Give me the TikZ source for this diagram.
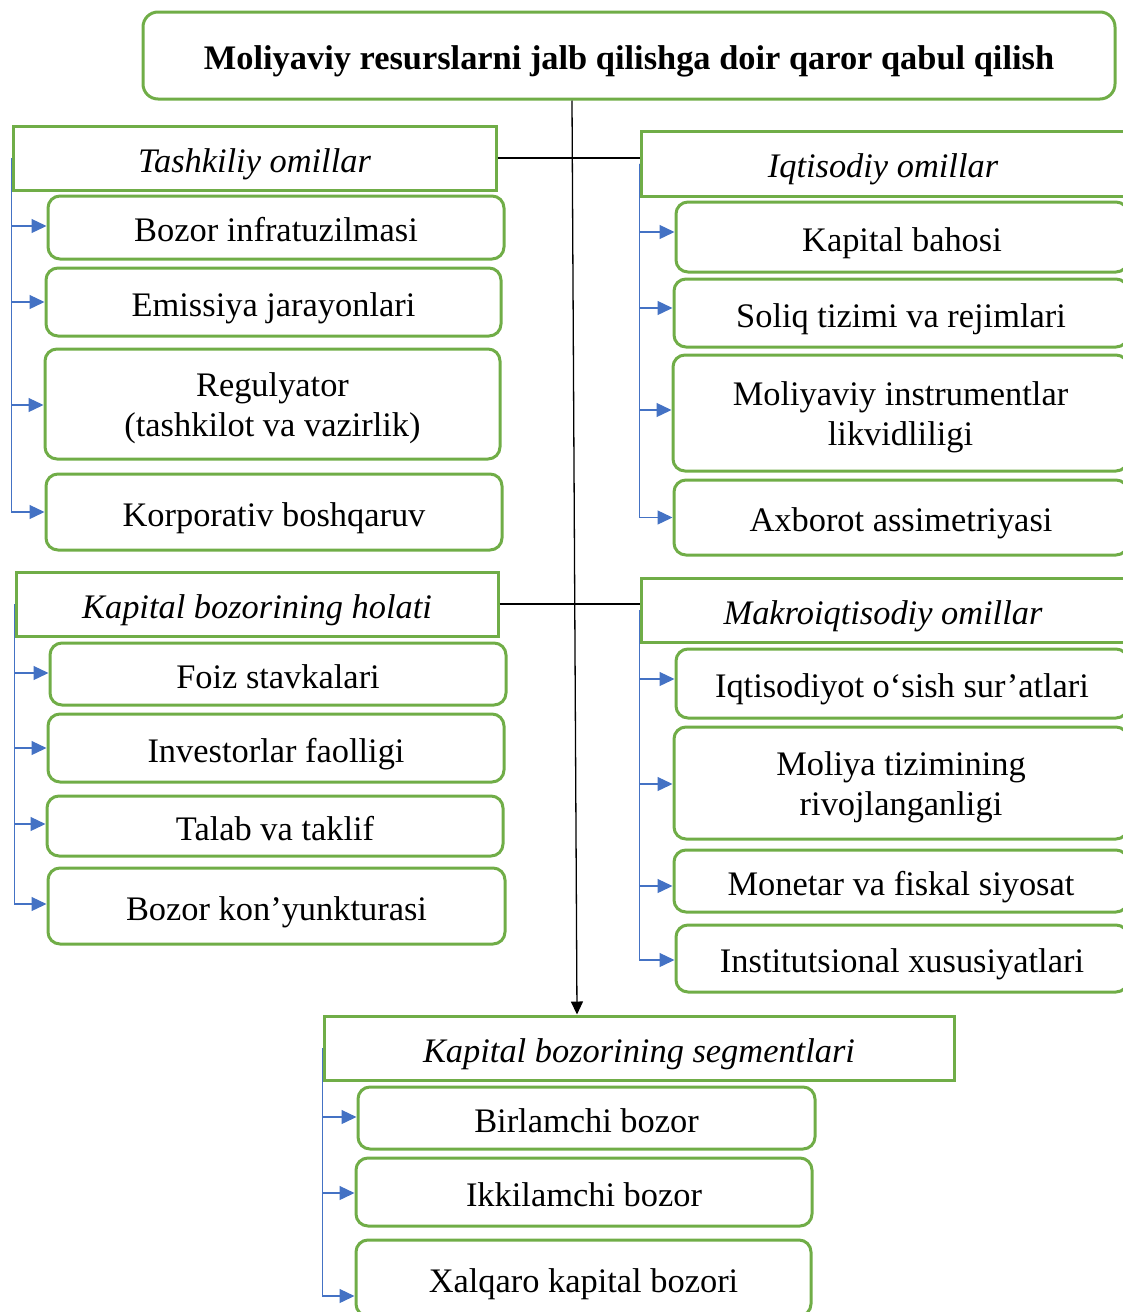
\documentclass[tikz,border=0pt]{standalone}
\usepackage{fontspec}
\setmainfont{Liberation Serif}
\usetikzlibrary{arrows.meta}
\definecolor{grn}{HTML}{70AD47}
\definecolor{blu}{HTML}{4472C4}
\newcommand\twolines[2]{\raisebox{-4.5pt}[\height][\depth]{\begin{tabular}{@{}c@{}}#1\\#2\end{tabular}}}
\begin{document}
\begin{tikzpicture}[x=1pt,y=-1pt,
  every node/.style={font=\fontsize{34.4}{40}\selectfont},
  box/.style={draw=grn, line width=3pt, rounded corners=12pt, inner sep=0pt, text height=30pt, text depth=2pt},
  multi/.style={draw=grn, line width=3pt, rounded corners=12pt, inner sep=0pt},
  head/.style={draw=grn, line width=3pt, inner sep=0pt, text height=30pt, text depth=2pt, font=\fontsize{34.4}{40}\selectfont\itshape},
  link/.style={blu, line width=1.3pt, -{Triangle[length=15pt,width=14pt]}},
  plain/.style={black, line width=1.3pt},
]
\useasboundingbox (0,0) rectangle (1123,1312);

% title
\node[box, rounded corners=15pt, minimum width=972pt, minimum height=87pt, font=\fontsize{34.4}{40}\selectfont\bfseries] (title) at (629,55.5) {Moliyaviy resurslarni jalb qilishga doir qaror qabul qilish};

% left group 1
\node[head, minimum width=483pt, minimum height=64pt] (h1) at (254.5,158) {Tashkiliy omillar};
\node[box, minimum width=456pt, minimum height=63pt] (a1) at (276,227.5) {Bozor infratuzilmasi};
\node[box, minimum width=455pt, minimum height=68pt] (a2) at (273.5,302) {Emissiya jarayonlari};
\node[multi, minimum width=455pt, minimum height=110pt] (a3) at (272.5,404) {\twolines{Regulyator}{(tashkilot va vazirlik)}};
\node[box, minimum width=456pt, minimum height=76pt] (a4) at (274,512) {Korporativ boshqaruv};

% right group 1
\node[head, minimum width=484pt, minimum height=65pt] (h2) at (883,163.5) {Iqtisodiy omillar};
\node[box, minimum width=452pt, minimum height=70pt] (b1) at (902,237) {Kapital bahosi};
\node[box, minimum width=454pt, minimum height=68pt] (b2) at (901,313) {Soliq tizimi va rejimlari};
\node[multi, minimum width=455pt, minimum height=116pt] (b3) at (900.5,413) {\twolines{Moliyaviy instrumentlar}{likvidliligi}};
\node[box, minimum width=454pt, minimum height=75pt] (b4) at (901,517.5) {Axborot assimetriyasi};

% left group 2
\node[head, minimum width=482pt, minimum height=64pt] (h3) at (257,604) {Kapital bozorining holati};
\node[box, minimum width=456pt, minimum height=62pt] (c1) at (278,674) {Foiz stavkalari};
\node[box, minimum width=456pt, minimum height=68pt] (c2) at (276,748) {Investorlar faolligi};
\node[box, minimum width=456pt, minimum height=60pt] (c3) at (275,826) {Talab va taklif};
\node[box, minimum width=457pt, minimum height=76pt] (c4) at (276.5,906) {Bozor kon’yunkturasi};

% right group 2
\node[head, minimum width=484pt, minimum height=64pt] (h4) at (883,610) {Makroiqtisodiy omillar};
\node[box, minimum width=452pt, minimum height=69pt] (d1) at (902,683.5) {Iqtisodiyot o‘sish sur’atlari};
\node[multi, minimum width=454pt, minimum height=112pt] (d2) at (901,783) {\twolines{Moliya tizimining}{rivojlanganligi}};
\node[box, minimum width=454pt, minimum height=62pt] (d3) at (901,881) {Monetar va fiskal siyosat};
\node[box, minimum width=452pt, minimum height=67pt] (d4) at (902,958.5) {Institutsional xususiyatlari};

% bottom group
\node[head, minimum width=630pt, minimum height=64pt] (h5) at (639,1048) {Kapital bozorining segmentlari};
\node[box, minimum width=457pt, minimum height=62pt] (e1) at (586.5,1118) {Birlamchi bozor};
\node[box, minimum width=456pt, minimum height=68pt] (e2) at (584,1192) {Ikkilamchi bozor};
\node[box, minimum width=455pt, minimum height=76pt] (e3) at (583.5,1278) {Xalqaro kapital bozori};

% black connectors
\draw[plain] (h1.east) -- (h1.east -| h2.west);
\draw[plain] (h3.east) -- (h3.east -| h4.west);
\draw[plain, -{Triangle[length=13pt,width=12pt]}] ([xshift=-57pt]title.south) -- ([xshift=-62pt]h5.north);

% blue connectors (offset = target height on the box's left side)
\foreach \n/\o in {a1/1.5,a2/0,a3/-1,a4/0} \draw[link] (h1.west) |- ([yshift=\o pt]\n.west);
\foreach \n/\o in {b1/5,b2/5,b3/3,b4/0} \draw[link] (h2.west) |- ([yshift=\o pt]\n.west);
\foreach \n/\o in {c1/1,c2/0,c3/2,c4/2} \draw[link] (h3.west) |- ([yshift=\o pt]\n.west);
\foreach \n/\o in {d1/4.5,d2/-1,d3/-5,d4/-1.5} \draw[link] (h4.west) |- ([yshift=\o pt]\n.west);
\foreach \n/\o in {e1/1,e2/-1,e3/-18} \draw[link] (h5.west) |- ([yshift=\o pt]\n.west);
\end{tikzpicture}
\end{document}
